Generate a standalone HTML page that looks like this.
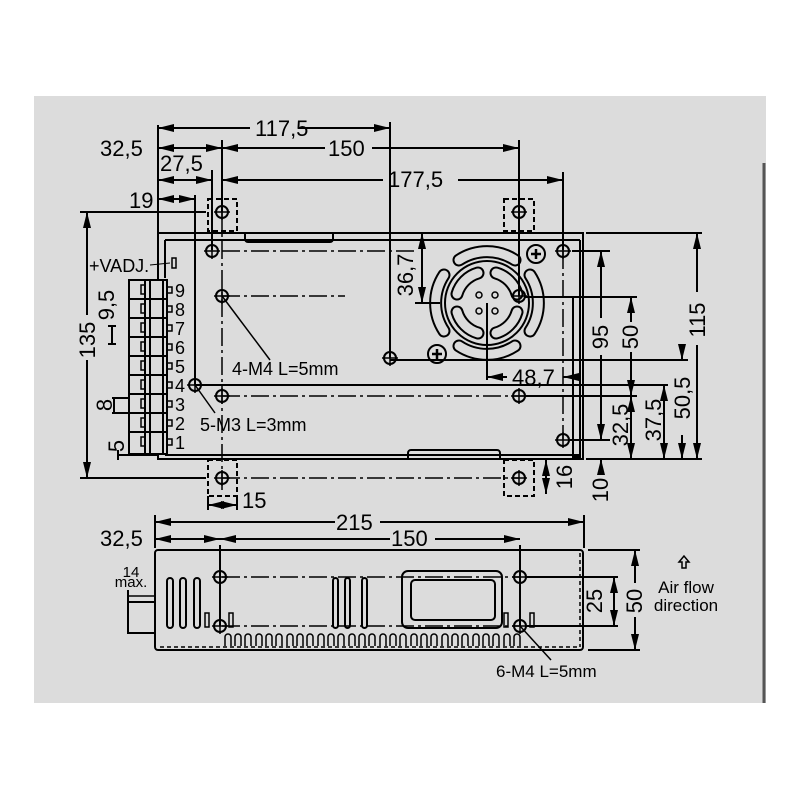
<!DOCTYPE html>
<html><head><meta charset="utf-8"><style>
html,body{margin:0;padding:0;background:#fff;}
svg{display:block;}
text{font-family:"Liberation Sans",sans-serif;fill:#000;}
</style></head><body>
<svg width="800" height="800" viewBox="0 0 800 800" xmlns="http://www.w3.org/2000/svg">
<defs>
<marker id="a" viewBox="0 0 16 8" refX="16" refY="4" markerWidth="16" markerHeight="8" markerUnits="userSpaceOnUse" orient="auto-start-reverse"><path d="M0,0 L16,4 L0,8 z" fill="#000"/></marker>
<g id="h"><circle r="6" fill="none" stroke="#000" stroke-width="2"/><line x1="-8" y1="0" x2="8" y2="0" stroke="#000" stroke-width="1.5"/><line x1="0" y1="-8" x2="0" y2="8" stroke="#000" stroke-width="1.5"/></g>
<g id="s"><circle r="9" fill="none" stroke="#000" stroke-width="2"/><line x1="-5" y1="0" x2="5" y2="0" stroke="#000" stroke-width="2.5"/><line x1="0" y1="-5" x2="0" y2="5" stroke="#000" stroke-width="2.5"/></g>
</defs>
<rect x="34" y="96" width="732" height="607" fill="#dcdcdc"/>
<line x1="764" y1="163" x2="764" y2="703" stroke="#555" stroke-width="3"/>

<g stroke="#000" stroke-width="2" fill="none">
<rect x="158" y="233" width="425" height="226"/>
<line x1="165" y1="240" x2="580" y2="240"/>
<line x1="580" y1="240" x2="580" y2="455"/>
<line x1="165" y1="240" x2="165" y2="278"/>
<line x1="165" y1="455" x2="580" y2="455"/>
<path d="M245,234 v5 a3,3 0 0 0 3,3 h82 a3,3 0 0 0 3,-3 v-5"/>
<path d="M408,458 v-5 a3,3 0 0 1 3,-3 h86 a3,3 0 0 1 3,3 v5"/>
<rect x="573" y="297" width="7" height="160"/>
<g stroke-dasharray="5,3"><rect x="208" y="199" width="29" height="32"/><rect x="504" y="199" width="30" height="32"/><rect x="208" y="460" width="29" height="36"/><rect x="504" y="460" width="30" height="36"/></g>
<rect x="129" y="280" width="38" height="174" fill="#dcdcdc"/>
<line x1="145" y1="280" x2="145" y2="454"/><line x1="150" y1="280" x2="150" y2="454"/><line x1="163" y1="280" x2="163" y2="454"/>
</g>
<g stroke="#000" stroke-width="2" fill="none">
<line x1="129" y1="280" x2="167" y2="280"/>
<line x1="129" y1="299" x2="167" y2="299"/><line x1="129" y1="318" x2="167" y2="318"/><line x1="129" y1="337" x2="167" y2="337"/><line x1="129" y1="356" x2="167" y2="356"/><line x1="129" y1="375" x2="167" y2="375"/><line x1="129" y1="394" x2="167" y2="394"/><line x1="129" y1="413" x2="167" y2="413"/><line x1="129" y1="432" x2="167" y2="432"/>
<g stroke-width="1.5"><rect x="141" y="285" width="4" height="9"/><rect x="141" y="304" width="4" height="9"/><rect x="141" y="323" width="4" height="9"/><rect x="141" y="342" width="4" height="9"/><rect x="141" y="361" width="4" height="9"/><rect x="141" y="380" width="4" height="9"/><rect x="141" y="399" width="4" height="9"/><rect x="141" y="418" width="4" height="9"/><rect x="141" y="437" width="4" height="9"/>
<rect x="167" y="287" width="5" height="6"/><rect x="167" y="306" width="5" height="6"/><rect x="167" y="325" width="5" height="6"/><rect x="167" y="344" width="5" height="6"/><rect x="167" y="363" width="5" height="6"/><rect x="167" y="382" width="5" height="6"/><rect x="167" y="401" width="5" height="6"/><rect x="167" y="420" width="5" height="6"/><rect x="167" y="439" width="5" height="6"/>
<rect x="172" y="258" width="4" height="10"/></g>
<line x1="150" y1="265" x2="170" y2="263" stroke-width="1"/>
</g>
<g font-size="18">
<text x="175" y="297">9</text><text x="175" y="316">8</text><text x="175" y="335">7</text><text x="175" y="354">6</text><text x="175" y="373">5</text><text x="175" y="392">4</text><text x="175" y="411">3</text><text x="175" y="430">2</text><text x="175" y="449">1</text>
<text x="89" y="272" font-size="18">+VADJ.</text>
</g>

<g transform="translate(487,303)" fill="none">
<g stroke="#000" stroke-width="13" stroke-linecap="round">
<path d="M-28,-43 A51,51 0 0 1 28,-43"/><path d="M43,-28 A51,51 0 0 1 43,28"/><path d="M28,43 A51,51 0 0 1 -28,43"/><path d="M-43,28 A51,51 0 0 1 -43,-28"/>
<path d="M9,-30 A31,31 0 0 1 30,-9"/><path d="M30,9 A31,31 0 0 1 9,30"/><path d="M-9,30 A31,31 0 0 1 -30,9"/><path d="M-30,-9 A31,31 0 0 1 -9,-30"/>
</g>
<g stroke="#dcdcdc" stroke-width="9" stroke-linecap="round">
<path d="M-28,-43 A51,51 0 0 1 28,-43"/><path d="M43,-28 A51,51 0 0 1 43,28"/><path d="M28,43 A51,51 0 0 1 -28,43"/><path d="M-43,28 A51,51 0 0 1 -43,-28"/>
<path d="M9,-30 A31,31 0 0 1 30,-9"/><path d="M30,9 A31,31 0 0 1 9,30"/><path d="M-9,30 A31,31 0 0 1 -30,9"/><path d="M-30,-9 A31,31 0 0 1 -9,-30"/>
</g>
<circle r="42" stroke="#000" stroke-width="2"/>
<g stroke="#000" stroke-width="1.5"><circle cx="-8" cy="-8" r="3"/><circle cx="8" cy="-8" r="3"/><circle cx="-8" cy="8" r="3"/><circle cx="8" cy="8" r="3"/></g>
</g>

<g stroke="#000" stroke-width="1.5" fill="none" stroke-dasharray="18,4,3,4">
<line x1="222" y1="251" x2="415" y2="251"/>
<line x1="222" y1="296" x2="345" y2="296"/>
<line x1="222" y1="396" x2="580" y2="396"/>
<line x1="222" y1="212" x2="222" y2="490"/>
<line x1="563" y1="251" x2="563" y2="440"/>
<line x1="222" y1="478" x2="519" y2="478"/>
<line x1="222" y1="577" x2="519" y2="577"/>
<line x1="222" y1="626" x2="519" y2="626"/>
</g>

<g stroke="#000" stroke-width="2" fill="none">
<line x1="158" y1="125" x2="158" y2="232"/>
<line x1="222" y1="140" x2="222" y2="212"/>
<line x1="212" y1="170" x2="212" y2="250"/>
<line x1="195" y1="195" x2="195" y2="385"/>
<line x1="390" y1="122" x2="390" y2="358"/>
<line x1="519" y1="140" x2="519" y2="296"/>
<line x1="563" y1="172" x2="563" y2="250"/>
<line x1="158" y1="128" x2="250" y2="128" marker-start="url(#a)"/><line x1="298" y1="128" x2="390" y2="128" marker-end="url(#a)"/>
<line x1="158" y1="148" x2="222" y2="148" marker-start="url(#a)" marker-end="url(#a)"/>
<line x1="222" y1="148" x2="325" y2="148" marker-start="url(#a)"/><line x1="372" y1="148" x2="519" y2="148" marker-end="url(#a)"/>
<line x1="158" y1="180" x2="212" y2="180" marker-start="url(#a)" marker-end="url(#a)"/>
<line x1="222" y1="180" x2="383" y2="180" marker-start="url(#a)"/><line x1="458" y1="180" x2="563" y2="180" marker-end="url(#a)"/>
<line x1="158" y1="199" x2="195" y2="199" marker-start="url(#a)" marker-end="url(#a)"/>
<line x1="80" y1="212" x2="206" y2="212"/><line x1="80" y1="478" x2="206" y2="478"/>
<line x1="87" y1="212" x2="87" y2="315" marker-start="url(#a)"/><line x1="87" y1="360" x2="87" y2="478" marker-end="url(#a)"/>
<path d="M112,326 v18 M108,326 h8 M108,344 h8"/>
<path d="M114,398 v15 M112,398 h17 M112,413 h17"/>
<path d="M118,450 v10 M118,455 h40"/>
<line x1="415" y1="303" x2="440" y2="303"/>
<line x1="422" y1="233" x2="422" y2="303" marker-start="url(#a)" marker-end="url(#a)"/>
<line x1="586" y1="233" x2="702" y2="233"/>
<line x1="572" y1="251" x2="610" y2="251"/>
<line x1="525" y1="297" x2="637" y2="297"/>
<line x1="390" y1="360" x2="688" y2="360"/>
<line x1="195" y1="385" x2="668" y2="385"/>
<line x1="525" y1="396" x2="637" y2="396"/>
<line x1="570" y1="440" x2="610" y2="440"/>
<line x1="586" y1="459" x2="702" y2="459"/>
<line x1="601" y1="251" x2="601" y2="318" marker-start="url(#a)"/><line x1="601" y1="355" x2="601" y2="440" marker-end="url(#a)"/>
<line x1="601" y1="459" x2="601" y2="475" marker-start="url(#a)"/>
<line x1="631" y1="297" x2="631" y2="322" marker-start="url(#a)"/><line x1="631" y1="352" x2="631" y2="396" marker-end="url(#a)"/>
<line x1="631" y1="396" x2="631" y2="459" marker-start="url(#a)" marker-end="url(#a)"/>
<line x1="664" y1="385" x2="664" y2="459" marker-start="url(#a)" marker-end="url(#a)"/>
<line x1="682" y1="345" x2="682" y2="360" marker-end="url(#a)"/><line x1="682" y1="435" x2="682" y2="459" marker-end="url(#a)"/>
<line x1="697" y1="233" x2="697" y2="292" marker-start="url(#a)"/><line x1="697" y1="345" x2="697" y2="459" marker-end="url(#a)"/>
<line x1="546" y1="460" x2="546" y2="494" marker-start="url(#a)" marker-end="url(#a)"/>
<line x1="487" y1="303" x2="487" y2="380"/>
<line x1="487" y1="377" x2="507" y2="377" marker-start="url(#a)"/>
<line x1="563" y1="377" x2="575" y2="377" marker-start="url(#a)"/>
<line x1="208" y1="496" x2="208" y2="510"/><line x1="237" y1="496" x2="237" y2="510"/>
<line x1="208" y1="505" x2="237" y2="505" marker-start="url(#a)" marker-end="url(#a)"/>
<line x1="222" y1="296" x2="270" y2="360" stroke-width="1.5"/>
<line x1="195" y1="385" x2="215" y2="413" stroke-width="1.5"/>
</g>
<g>
<use href="#h" x="222" y="212"/><use href="#h" x="519" y="212"/><use href="#h" x="222" y="478"/><use href="#h" x="519" y="478"/>
<use href="#h" x="212" y="251"/><use href="#h" x="222" y="296"/><use href="#h" x="390" y="358"/><use href="#h" x="195" y="385"/><use href="#h" x="222" y="396"/><use href="#h" x="519" y="296"/><use href="#h" x="563" y="251"/><use href="#h" x="519" y="396"/><use href="#h" x="563" y="440"/>
<use href="#s" x="536" y="254"/><use href="#s" x="437" y="354"/>
</g>

<g font-size="22">
<text x="255" y="136">117,5</text>
<text x="100" y="156">32,5</text>
<text x="328" y="156">150</text>
<text x="160" y="171">27,5</text>
<text x="388" y="187">177,5</text>
<text x="129" y="208">19</text>
<text x="512" y="385">48,7</text>
<text x="242" y="508">15</text>
<text transform="translate(95,340) rotate(-90)" text-anchor="middle">135</text>
<text transform="translate(114,305) rotate(-90)" text-anchor="middle">9,5</text>
<text transform="translate(112,405) rotate(-90)" text-anchor="middle">8</text>
<text transform="translate(124,446) rotate(-90)" text-anchor="middle">5</text>
<text transform="translate(413,275) rotate(-90)" text-anchor="middle">36,7</text>
<text transform="translate(608,337) rotate(-90)" text-anchor="middle">95</text>
<text transform="translate(638,337) rotate(-90)" text-anchor="middle">50</text>
<text transform="translate(628,425) rotate(-90)" text-anchor="middle">32,5</text>
<text transform="translate(661,420) rotate(-90)" text-anchor="middle">37,5</text>
<text transform="translate(690,398) rotate(-90)" text-anchor="middle">50,5</text>
<text transform="translate(705,320) rotate(-90)" text-anchor="middle">115</text>
<text transform="translate(608,490) rotate(-90)" text-anchor="middle">10</text>
<text transform="translate(572,477) rotate(-90)" text-anchor="middle">16</text>
</g>
<g font-size="18">
<text x="232" y="375">4-M4 L=5mm</text>
<text x="200" y="431">5-M3 L=3mm</text>
</g>

<g stroke="#000" stroke-width="2" fill="none">
<path d="M158,550 H580 a3,3 0 0 1 3,3 V647 a3,3 0 0 1 -3,3 H158 a3,3 0 0 1 -3,-3 V553 a3,3 0 0 1 3,-3z"/>
<line x1="160" y1="647" x2="578" y2="647" stroke-dasharray="4,3" stroke-width="1.5"/>
<line x1="580" y1="553" x2="580" y2="647" stroke-dasharray="4,3" stroke-width="1.5"/>
<rect x="128" y="602" width="27" height="31"/>
<line x1="128" y1="590" x2="128" y2="602"/><line x1="128" y1="596" x2="155" y2="596" stroke-width="1.5"/>
<rect x="167" y="578" width="6" height="50" rx="3"/><rect x="180" y="578" width="6" height="50" rx="3"/><rect x="194" y="578" width="6" height="50" rx="3"/>
<rect x="205" y="613" width="4" height="14" stroke-width="1.5"/><rect x="229" y="613" width="4" height="14" stroke-width="1.5"/>
<rect x="333" y="578" width="5" height="50" rx="2.5"/><rect x="345" y="578" width="5" height="50" rx="2.5"/><rect x="362" y="578" width="5" height="50" rx="2.5"/>
<rect x="402" y="571" width="100" height="57" rx="6"/><rect x="411" y="580" width="84" height="40" rx="4"/>
<rect x="504" y="613" width="4" height="14" stroke-width="1.5"/><rect x="530" y="613" width="4" height="14" stroke-width="1.5"/>
<path d="M225,646 v-9 a3,3 0 0 1 6,0 v9 M235,646 v-9 a3,3 0 0 1 6,0 v9 M245,646 v-9 a3,3 0 0 1 6,0 v9 M256,646 v-9 a3,3 0 0 1 6,0 v9 M266,646 v-9 a3,3 0 0 1 6,0 v9 M276,646 v-9 a3,3 0 0 1 6,0 v9 M287,646 v-9 a3,3 0 0 1 6,0 v9 M297,646 v-9 a3,3 0 0 1 6,0 v9 M307,646 v-9 a3,3 0 0 1 6,0 v9 M318,646 v-9 a3,3 0 0 1 6,0 v9 M328,646 v-9 a3,3 0 0 1 6,0 v9 M338,646 v-9 a3,3 0 0 1 6,0 v9 M349,646 v-9 a3,3 0 0 1 6,0 v9 M359,646 v-9 a3,3 0 0 1 6,0 v9 M369,646 v-9 a3,3 0 0 1 6,0 v9 M380,646 v-9 a3,3 0 0 1 6,0 v9 M390,646 v-9 a3,3 0 0 1 6,0 v9 M400,646 v-9 a3,3 0 0 1 6,0 v9 M411,646 v-9 a3,3 0 0 1 6,0 v9 M421,646 v-9 a3,3 0 0 1 6,0 v9 M431,646 v-9 a3,3 0 0 1 6,0 v9 M442,646 v-9 a3,3 0 0 1 6,0 v9 M452,646 v-9 a3,3 0 0 1 6,0 v9 M462,646 v-9 a3,3 0 0 1 6,0 v9 M473,646 v-9 a3,3 0 0 1 6,0 v9 M483,646 v-9 a3,3 0 0 1 6,0 v9 M493,646 v-9 a3,3 0 0 1 6,0 v9 M504,646 v-9 a3,3 0 0 1 6,0 v9 M514,646 v-9 a3,3 0 0 1 6,0 v9" stroke-width="1.5"/>
<line x1="155" y1="515" x2="155" y2="548"/><line x1="584" y1="515" x2="584" y2="548"/>
<line x1="220" y1="545" x2="220" y2="626"/><line x1="520" y1="545" x2="520" y2="626"/>
<line x1="155" y1="522" x2="335" y2="522" marker-start="url(#a)"/><line x1="380" y1="522" x2="584" y2="522" marker-end="url(#a)"/>
<line x1="155" y1="539" x2="220" y2="539" marker-start="url(#a)" marker-end="url(#a)"/>
<line x1="220" y1="539" x2="390" y2="539" marker-start="url(#a)"/><line x1="435" y1="539" x2="520" y2="539" marker-end="url(#a)"/>
<line x1="588" y1="550" x2="640" y2="550"/><line x1="588" y1="650" x2="640" y2="650"/>
<line x1="526" y1="577" x2="618" y2="577"/><line x1="526" y1="626" x2="618" y2="626"/>
<line x1="614" y1="577" x2="614" y2="626" marker-start="url(#a)" marker-end="url(#a)"/>
<line x1="635" y1="550" x2="635" y2="583" marker-start="url(#a)"/><line x1="635" y1="617" x2="635" y2="650" marker-end="url(#a)"/>
<line x1="520" y1="626" x2="551" y2="660" stroke-width="1.5"/>
</g>
<use href="#h" x="220" y="577"/><use href="#h" x="220" y="626"/><use href="#h" x="520" y="577"/><use href="#h" x="520" y="626"/>
<g font-size="22">
<text x="336" y="530">215</text>
<text x="100" y="546">32,5</text>
<text x="391" y="546">150</text>
<text transform="translate(602,601) rotate(-90)" text-anchor="middle">25</text>
<text transform="translate(642,601) rotate(-90)" text-anchor="middle">50</text>
</g>
<g font-size="17">
<text x="131" y="577" text-anchor="middle" font-size="15">14</text>
<text x="131" y="587" text-anchor="middle" font-size="15">max.</text>
<text x="686" y="593" text-anchor="middle">Air flow</text>
<text x="686" y="611" text-anchor="middle">direction</text>
<text x="496" y="677">6-M4 L=5mm</text>
</g>
<path d="M684,556 l-5,6 h3 v6 h4 v-6 h3z" fill="none" stroke="#000" stroke-width="1.5"/>
</svg>
</body></html>
